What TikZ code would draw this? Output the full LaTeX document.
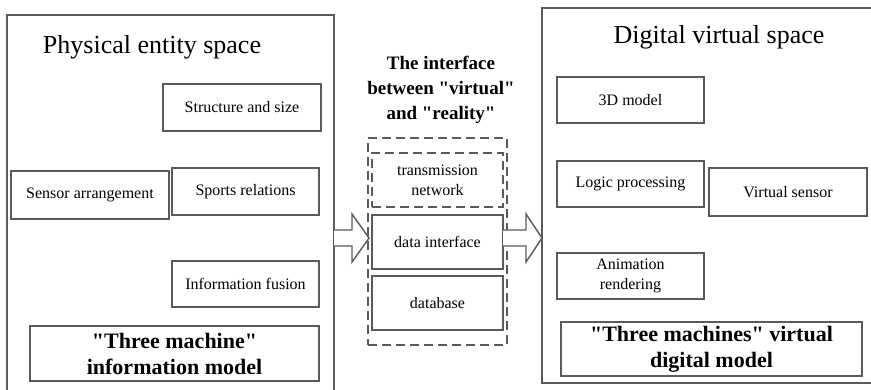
\documentclass[tikz,border=0pt]{standalone}
\usepackage{fontspec}
\setmainfont{Liberation Serif}
% plain family without TeX ligature mapping, so " stays a straight quote
\newfontfamily\serifface{Liberation Serif}
\usetikzlibrary{calc}

\definecolor{edge}{HTML}{5A5A5A}

\tikzset{
  frame/.style={draw=edge, line width=1.4pt, inner sep=0pt, outer sep=0pt},
  item/.style={frame, fill=white, font=\serifface\fontsize{16}{20}\selectfont, align=center},
  dashitem/.style={item, dash pattern=on 9pt off 5pt},
  model/.style={frame, fill=white, font=\serifface\fontsize{22}{26}\selectfont\bfseries, align=center},
  heading/.style={font=\serifface\fontsize{26}{30}\selectfont},
  blockarrow/.style={draw=edge, line width=1.4pt, fill=white, line join=miter}
}

% Hollow block arrow from #1 to #2 (horizontal, rightwards), head length #3
\newcommand\hollowarrow[3]{%
  \draw[blockarrow] let \p1=(#1), \p2=(#2) in
    (\x1,\y1+8pt) -- (\x2-#3,\y1+8pt) -- (\x2-#3,\y1+24pt) -- (\x2,\y1)
    -- (\x2-#3,\y1-24pt) -- (\x2-#3,\y1-8pt) -- (\x1,\y1-8pt);
}

\begin{document}
\begin{tikzpicture}[x=1pt, y=-1pt]
  \useasboundingbox (0,0) rectangle (871,389);
  \clip (0,0) rectangle (871,389);

  % Two enclosing spaces
  \node[frame, minimum width=327pt, minimum height=385pt] (phys) at (170.5,207.5) {};
  \node[frame, minimum width=338pt, minimum height=375pt] (digi) at (711,195.5) {};

  \node[heading] (physT) at (152,47) {Physical entity space};
  \node[heading] (digiT) at (719,37) {Digital virtual space};

  % Physical side
  \node[item, minimum width=158pt, minimum height=47pt] (struct) at (242,107.5) {Structure and size};
  \node[item, minimum width=158pt, minimum height=48pt] (sensor) at (90,195) {Sensor arrangement};
  \node[item, minimum width=147pt, minimum height=47pt] (sports) at (245.5,191.5) {Sports relations};
  \node[item, minimum width=147pt, minimum height=46pt] (fusion) at (245.5,284) {Information fusion};
  \node[model, minimum width=289pt, minimum height=55pt] (threeL) at (174.5,353.5) {"Three machine"\\information model};

  % Interface
  \node[font=\serifface\fontsize{19}{25}\selectfont\bfseries, align=center] (ifaceT) at (441,90)
    {The interface\\between "virtual"\\and "reality"};
  \node[frame, dash pattern=on 9pt off 5pt, minimum width=139pt, minimum height=207pt] (iface) at (437.5,241.5) {};
  \node[dashitem, minimum width=131pt, minimum height=54pt] (trans) at (437.5,180) {transmission\\network};
  \node[item, minimum width=131pt, minimum height=54pt] (datai) at (437.5,242) {data interface};
  \node[item, minimum width=131pt, minimum height=54pt] (db) at (437.5,303) {database};

  % Digital side
  \node[item, minimum width=147pt, minimum height=46pt] (m3d) at (630.5,100) {3D model};
  \node[item, minimum width=147pt, minimum height=46pt] (logic) at (630.5,184) {Logic processing};
  \node[item, minimum width=158pt, minimum height=48pt] (vsens) at (788,192) {Virtual sensor};
  \node[item, minimum width=147pt, minimum height=46pt] (anim) at (630.5,276) {Animation\\rendering};
  \node[model, minimum width=301pt, minimum height=54pt] (threeR) at (711.5,349) {"Three machines" virtual\\digital model};

  % Flow arrows
  \coordinate (a1s) at ($(phys.east |- 0,238)$);
  \coordinate (a1e) at ($(iface.west |- a1s) + (1,0)$);
  \coordinate (a2s) at (datai.east |- a1s);
  \coordinate (a2e) at (digi.west |- a1s);
  \hollowarrow{a1s}{a1e}{17pt}
  \hollowarrow{a2s}{a2e}{16pt}
\end{tikzpicture}
\end{document}
